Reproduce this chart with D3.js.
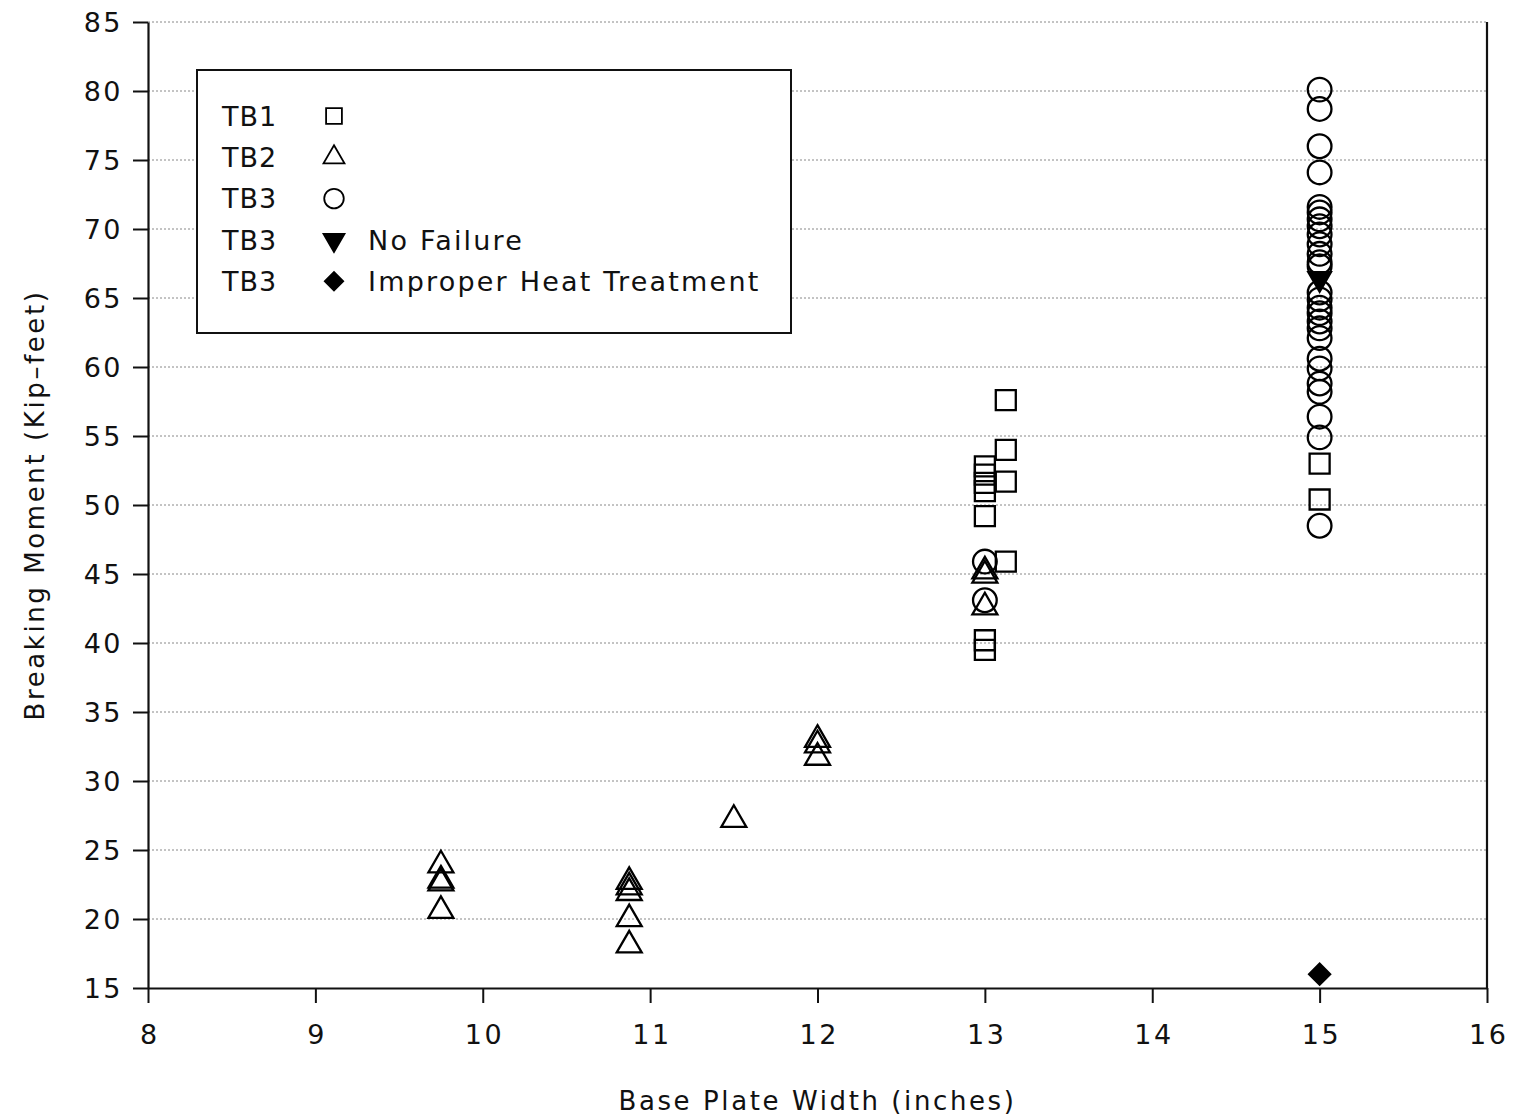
<!DOCTYPE html>
<html>
<head>
<meta charset="utf-8">
<script src="https://cdn.jsdelivr.net/npm/d3@7"></script>
<style>
  html, body { margin: 0; padding: 0; background: #fff; }
  svg text { font-family: "DejaVu Sans", sans-serif; fill: #111; }
</style>
</head>
<body>
<svg id="chart" width="1513" height="1120"></svg>
<script>
// readings: [base plate width, breaking moment]
const tb1 = [
  [13, 52.8], [13, 52.2], [13, 51.6], [13, 51.0], [13, 49.2], [13, 40.2], [13, 39.5],
  [13.125, 57.6], [13.125, 54.0], [13.125, 51.7], [13.125, 45.9],
  [15, 53.0], [15, 50.4]
];
const tb2 = [
  [9.75, 23.9], [9.75, 22.8], [9.75, 22.6], [9.75, 20.6],
  [10.875, 22.7], [10.875, 22.3], [10.875, 21.9], [10.875, 20.0], [10.875, 18.1],
  [11.5, 27.2],
  [12, 33.0], [12, 32.6], [12, 31.7],
  [13, 45.2], [13, 44.9], [13, 42.6]
];
const tb3 = [
  [13, 45.9], [13, 43.1],
  [15, 80.1], [15, 78.7], [15, 76.0], [15, 74.1], [15, 71.6], [15, 71.2], [15, 70.7],
  [15, 70.2], [15, 69.6], [15, 68.9], [15, 68.2], [15, 67.6], [15, 67.3], [15, 65.4],
  [15, 64.9], [15, 64.3], [15, 63.9], [15, 63.3], [15, 62.8], [15, 62.1], [15, 60.6],
  [15, 59.9], [15, 58.8], [15, 58.2], [15, 56.4], [15, 54.9], [15, 48.5]
];
const tb3NoFail = [[15, 66.4]];
const tb3Heat = [[15, 16.0]];

const xTicks = [8, 9, 10, 11, 12, 13, 14, 15, 16];
const yTicks = [15, 20, 25, 30, 35, 40, 45, 50, 55, 60, 65, 70, 75, 80, 85];

const legendRows = [
  { name: "TB1", shape: "square", fill: false, note: "" },
  { name: "TB2", shape: "triangle", fill: false, note: "" },
  { name: "TB3", shape: "circle", fill: false, note: "" },
  { name: "TB3", shape: "down", fill: true, note: "No Failure" },
  { name: "TB3", shape: "diamond", fill: true, note: "Improper Heat Treatment" }
];

const M = { top: 22, right: 26, bottom: 132, left: 148 };
const W = 1513, H = 1120;
const svg = d3.select("#chart");

const x = d3.scaleLinear().domain([8, 16]).range([M.left, W - M.right]);
const y = d3.scaleLinear().domain([15, 85]).range([H - M.bottom, M.top]);

// gridlines
svg.append("g").selectAll("line").data(yTicks.slice(1)).join("line")
  .attr("x1", M.left).attr("x2", W - M.right)
  .attr("y1", (d) => y(d)).attr("y2", (d) => y(d))
  .attr("stroke", "#888").attr("stroke-width", 1).attr("stroke-dasharray", "2 2");

// axes
const ya = svg.append("g").attr("transform", `translate(${M.left},0)`)
  .call(d3.axisLeft(y).tickValues(yTicks).tickSize(15).tickPadding(10).tickSizeOuter(0));
const xa = svg.append("g").attr("transform", `translate(0,${H - M.bottom})`)
  .call(d3.axisBottom(x).tickValues(xTicks).tickSize(15).tickPadding(22).tickSizeOuter(0));
[ya, xa].forEach((a) => {
  a.selectAll("path").attr("stroke", "#111").attr("stroke-width", 2.2);
  a.selectAll("line").attr("stroke", "#111").attr("stroke-width", 2);
  a.selectAll("text").style("font-size", "27px").style("fill", "#111")
    .style("letter-spacing", "2.5px").style("font-family", "'DejaVu Sans', sans-serif");
});
ya.selectAll("text").attr("dy", "0.36em");
xa.selectAll("text").attr("dx", "1.25px");

// right frame
svg.append("line").attr("x1", x(16)).attr("x2", x(16)).attr("y1", y(85)).attr("y2", y(15))
  .attr("stroke", "#111").attr("stroke-width", 2.2);

// axis titles
svg.append("text").attr("x", (x(8) + x(16)) / 2).attr("y", 1110).attr("text-anchor", "middle")
  .style("font-size", "26px").style("letter-spacing", "2.6px").text("Base Plate Width (inches)");
svg.append("text").attr("transform", `translate(44,${(y(15) + y(85)) / 2}) rotate(-90)`)
  .attr("text-anchor", "middle").style("font-size", "26px").style("letter-spacing", "2.6px")
  .text("Breaking Moment (Kip\u2013feet)");

const sym = {
  square: d3.symbol(d3.symbolSquare, 400),
  triangle: d3.symbol(d3.symbolTriangle, 270),
  circle: d3.symbol(d3.symbolCircle, 440),
  down: d3.symbol(d3.symbolTriangle, 220),
  diamond: d3.symbol(d3.symbolSquare, 220)
};

function turn(shape) {
  return shape === "down" ? " rotate(180)" : shape === "diamond" ? " rotate(45)" : "";
}

function plot(data, shape, fill) {
  svg.append("g").selectAll("path").data(data).join("path")
    .attr("d", sym[shape])
    .attr("transform", (d) => `translate(${x(d[0])},${y(d[1])})` + turn(shape))
    .attr("fill", fill ? "#000" : "none")
    .attr("stroke", "#000").attr("stroke-width", 2.3);
}
plot(tb1, "square", false);
plot(tb2, "triangle", false);
plot(tb3, "circle", false);
plot(tb3NoFail, "down", true);
plot(tb3Heat, "diamond", true);

// legend
const lg = svg.append("g");
lg.append("rect").attr("x", 197).attr("y", 70).attr("width", 594).attr("height", 263)
  .attr("fill", "#fff").attr("stroke", "#111").attr("stroke-width", 2);
const rows = lg.selectAll("g.row").data(legendRows).join("g").attr("class", "row")
  .attr("transform", (d, i) => `translate(0,${116 + i * 41.3})`);
rows.append("text").attr("x", 222).attr("dy", "0.36em").style("font-size", "27px")
  .style("letter-spacing", "1px").text((d) => d.name);
const lsym = {
  square: d3.symbol(d3.symbolSquare, 250),
  triangle: d3.symbol(d3.symbolTriangle, 190),
  circle: d3.symbol(d3.symbolCircle, 300),
  down: d3.symbol(d3.symbolTriangle, 190),
  diamond: d3.symbol(d3.symbolSquare, 170)
};
rows.append("path").attr("d", (d) => lsym[d.shape]())
  .attr("transform", (d) => "translate(334,0)" + turn(d.shape))
  .attr("fill", (d) => d.fill ? "#000" : "none").attr("stroke", "#000").attr("stroke-width", 1.8);
rows.append("text").attr("x", 368).attr("dy", "0.36em").style("font-size", "27px")
  .style("letter-spacing", "2.2px").text((d) => d.note);
</script>
</body>
</html>
